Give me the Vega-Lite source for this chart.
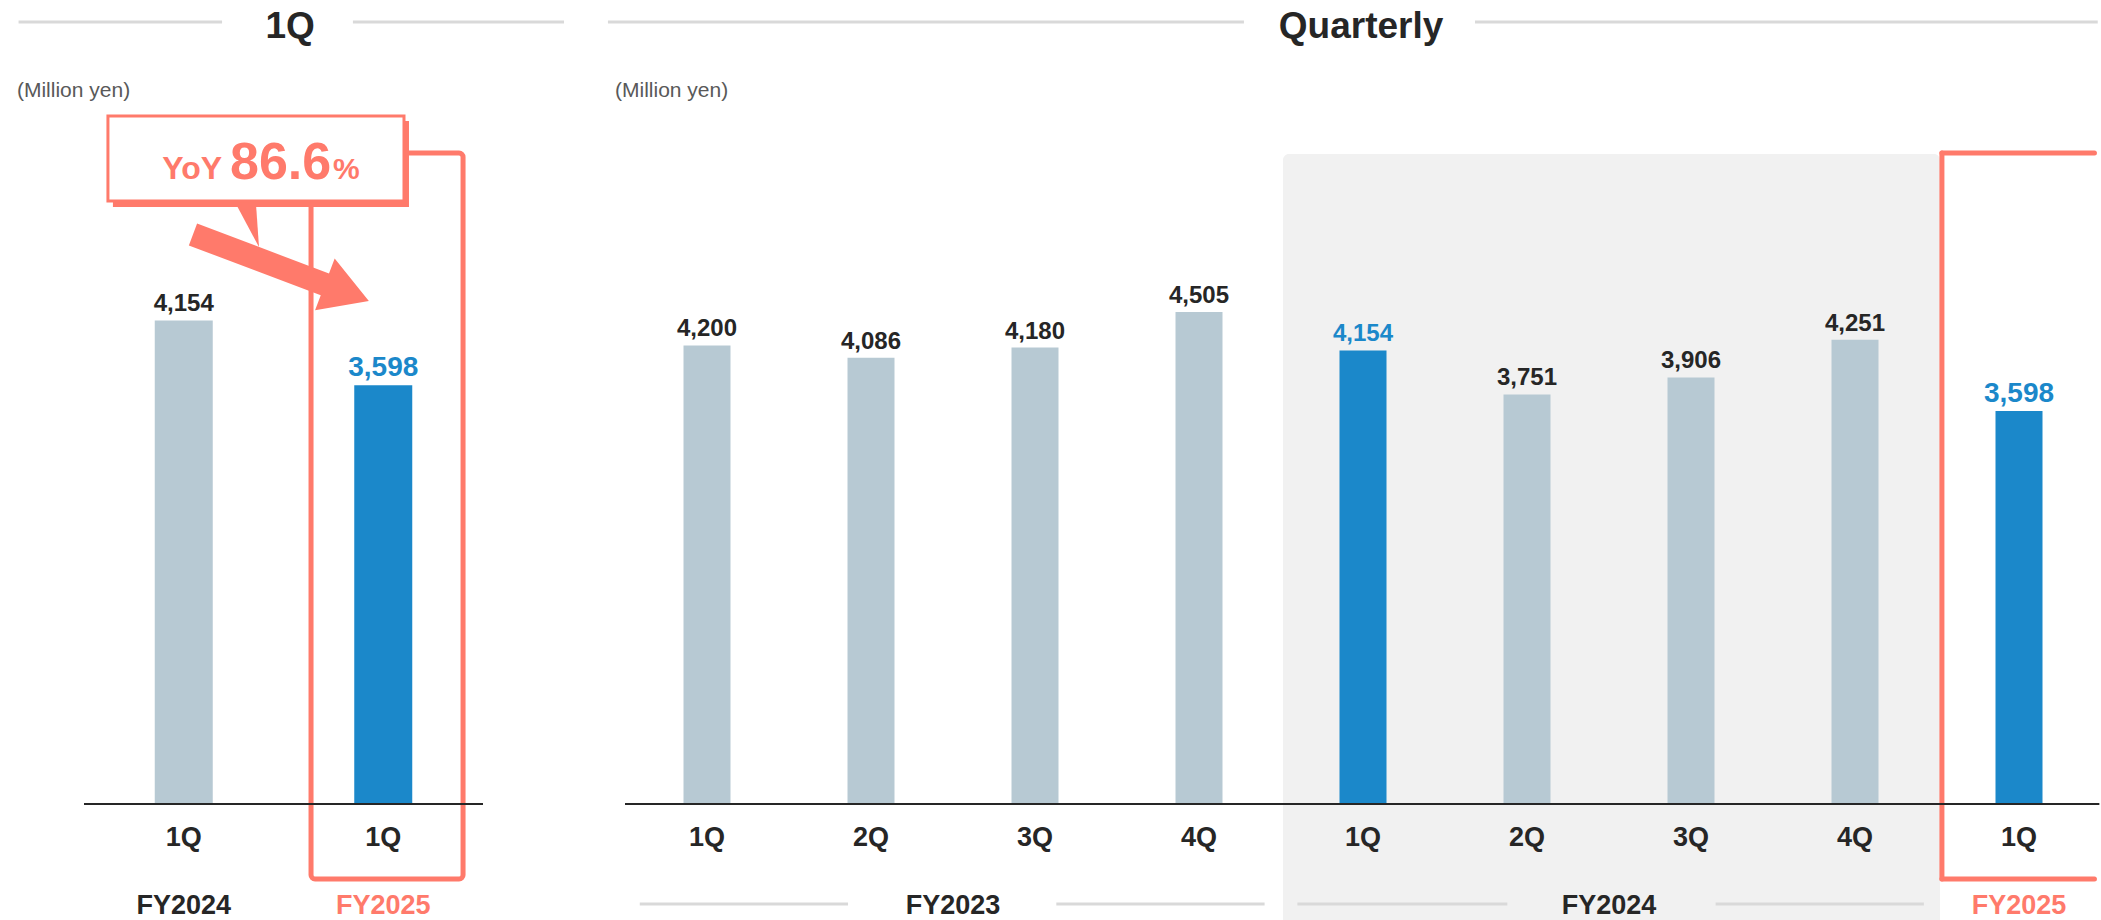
{
  "$schema": "https://vega.github.io/schema/vega-lite/v6.json",
  "background": "white",
  "padding": {"left": 16, "top": 7, "right": 0, "bottom": 0},
  "autosize": {"type": "pad"},
  "spacing": 142,
  "bounds": "flush",
  "config": {
    "view": {"stroke": null},
    "font": "Liberation Sans"
  },
  "datasets": {
    "oneq": [
      {"period": "FY2024 1Q", "fy": "FY2024", "quarter": "1Q", "value": 4154, "status": "past"},
      {"period": "FY2025 1Q", "fy": "FY2025", "quarter": "1Q", "value": 3598, "status": "current"}
    ],
    "quarterly": [
      {"period": "FY2023 1Q", "fy": "FY2023", "quarter": "1Q", "value": 4200, "status": "past"},
      {"period": "FY2023 2Q", "fy": "FY2023", "quarter": "2Q", "value": 4086, "status": "past"},
      {"period": "FY2023 3Q", "fy": "FY2023", "quarter": "3Q", "value": 4180, "status": "past"},
      {"period": "FY2023 4Q", "fy": "FY2023", "quarter": "4Q", "value": 4505, "status": "past"},
      {"period": "FY2024 1Q", "fy": "FY2024", "quarter": "1Q", "value": 4154, "status": "compare"},
      {"period": "FY2024 2Q", "fy": "FY2024", "quarter": "2Q", "value": 3751, "status": "past"},
      {"period": "FY2024 3Q", "fy": "FY2024", "quarter": "3Q", "value": 3906, "status": "past"},
      {"period": "FY2024 4Q", "fy": "FY2024", "quarter": "4Q", "value": 4251, "status": "past"},
      {"period": "FY2025 1Q", "fy": "FY2025", "quarter": "1Q", "value": 3598, "status": "current"}
    ]
  },
  "hconcat": [
    {
      "width": 399,
      "height": 582,
      "layer": [
        {
          "data": {"values": [{}]},
          "mark": {"type": "rect", "fillOpacity": 0, "stroke": "#FF7A6B", "strokeWidth": 5, "cornerRadius": 4},
          "encoding": {
            "x": {"datum": "FY2025 1Q", "bandPosition": 0.138, "axis": null, "scale": {"domain": ["FY2024 1Q", "FY2025 1Q"], "paddingInner": 0, "paddingOuter": 0}},
            "x2": {"datum": "FY2025 1Q", "bandPosition": 0.9},
            "y": {"datum": 5593, "type": "quantitative", "axis": null, "scale": {"domain": [0, 5000], "nice": false}},
            "y2": {"datum": -644}
          }
        },
        {
          "data": {"name": "oneq"},
          "mark": {"type": "bar", "width": 58},
          "encoding": {
            "x": {"field": "period", "type": "nominal", "sort": null, "axis": null, "scale": {"domain": ["FY2024 1Q", "FY2025 1Q"], "paddingInner": 0, "paddingOuter": 0}},
            "y": {"field": "value", "type": "quantitative", "axis": null, "scale": {"domain": [0, 5000], "nice": false}},
            "color": {"condition": {"test": "datum.status === 'past'", "value": "#B7C9D3"}, "value": "#1B88CA"}
          }
        },
        {
          "data": {"values": [{}]},
          "mark": {"type": "rule", "stroke": "#262626", "strokeWidth": 2},
          "encoding": {
            "x": {"datum": "FY2024 1Q", "bandPosition": 0, "axis": null, "scale": {"domain": ["FY2024 1Q", "FY2025 1Q"], "paddingInner": 0, "paddingOuter": 0}},
            "x2": {"datum": "FY2025 1Q", "bandPosition": 1},
            "y": {"datum": 0, "type": "quantitative", "axis": null, "scale": {"domain": [0, 5000], "nice": false}}
          }
        },
        {
          "data": {"name": "oneq"},
          "mark": {"type": "text", "baseline": "alphabetic", "dy": -9, "fontWeight": "bold", "align": "center"},
          "encoding": {
            "x": {"field": "period", "type": "nominal", "sort": null, "axis": null, "scale": {"domain": ["FY2024 1Q", "FY2025 1Q"], "paddingInner": 0, "paddingOuter": 0}},
            "y": {"field": "value", "type": "quantitative", "axis": null, "scale": {"domain": [0, 5000], "nice": false}},
            "text": {"field": "value", "type": "quantitative", "format": ","},
            "color": {"condition": {"test": "datum.status === 'past'", "value": "#262626"}, "value": "#1B88CA"},
            "size": {"condition": {"test": "datum.status === 'current'", "value": 28}, "value": 24}
          }
        },
        {
          "data": {"name": "oneq"},
          "mark": {"type": "text", "baseline": "alphabetic", "fontWeight": "bold", "fontSize": 27, "align": "center", "color": "#262626"},
          "encoding": {
            "x": {"field": "period", "type": "nominal", "sort": null, "axis": null, "scale": {"domain": ["FY2024 1Q", "FY2025 1Q"], "paddingInner": 0, "paddingOuter": 0}},
            "y": {"datum": -361, "type": "quantitative", "axis": null, "scale": {"domain": [0, 5000], "nice": false}},
            "text": {"field": "quarter"}
          }
        },
        {
          "data": {"name": "oneq"},
          "mark": {"type": "text", "baseline": "alphabetic", "fontWeight": "bold", "fontSize": 27, "align": "center"},
          "encoding": {
            "x": {"field": "period", "type": "nominal", "sort": null, "axis": null, "scale": {"domain": ["FY2024 1Q", "FY2025 1Q"], "paddingInner": 0, "paddingOuter": 0}},
            "y": {"datum": -945, "type": "quantitative", "axis": null, "scale": {"domain": [0, 5000], "nice": false}},
            "text": {"field": "fy"},
            "color": {"condition": {"test": "datum.fy === 'FY2025'", "value": "#FF7A6B"}, "value": "#262626"}
          }
        },
        {
          "data": {"values": [{}]},
          "mark": {"type": "rule", "stroke": "#D9D9D9", "strokeWidth": 3},
          "encoding": {
            "x": {"datum": "FY2024 1Q", "bandPosition": -0.328, "axis": null, "scale": {"domain": ["FY2024 1Q", "FY2025 1Q"], "paddingInner": 0, "paddingOuter": 0}},
            "x2": {"datum": "FY2024 1Q", "bandPosition": 0.692},
            "y": {"datum": 6718, "type": "quantitative", "axis": null, "scale": {"domain": [0, 5000], "nice": false}}
          }
        },
        {
          "data": {"values": [{}]},
          "mark": {"type": "rule", "stroke": "#D9D9D9", "strokeWidth": 3},
          "encoding": {
            "x": {"datum": "FY2025 1Q", "bandPosition": 0.348, "axis": null, "scale": {"domain": ["FY2024 1Q", "FY2025 1Q"], "paddingInner": 0, "paddingOuter": 0}},
            "x2": {"datum": "FY2025 1Q", "bandPosition": 1.406},
            "y": {"datum": 6718, "type": "quantitative", "axis": null, "scale": {"domain": [0, 5000], "nice": false}}
          }
        },
        {
          "data": {"values": [{}]},
          "mark": {"type": "text", "text": "1Q", "fontSize": 37, "fontWeight": "bold", "color": "#262626", "align": "center", "baseline": "alphabetic"},
          "encoding": {
            "x": {"datum": "FY2025 1Q", "bandPosition": 0.033, "axis": null, "scale": {"domain": ["FY2024 1Q", "FY2025 1Q"], "paddingInner": 0, "paddingOuter": 0}},
            "y": {"datum": 6581, "type": "quantitative", "axis": null, "scale": {"domain": [0, 5000], "nice": false}}
          }
        },
        {
          "data": {"values": [{}]},
          "mark": {"type": "text", "text": "(Million yen)", "fontSize": 21, "color": "#595959", "align": "left", "baseline": "alphabetic"},
          "encoding": {
            "x": {"datum": "FY2024 1Q", "bandPosition": -0.336, "axis": null, "scale": {"domain": ["FY2024 1Q", "FY2025 1Q"], "paddingInner": 0, "paddingOuter": 0}},
            "y": {"datum": 6074, "type": "quantitative", "axis": null, "scale": {"domain": [0, 5000], "nice": false}}
          }
        },
        {
          "data": {"values": [{}]},
          "mark": {"type": "point", "shape": "M -1 -0.124 L 0.5 -0.124 L 0.5 -0.295 L 1 0 L 0.5 0.295 L 0.5 0.124 L -1 0.124 Z", "size": 35344, "angle": 20.7, "filled": true, "fill": "#FF7A6B", "opacity": 1, "strokeWidth": 0},
          "encoding": {
            "x": {"datum": "FY2024 1Q", "bandPosition": 0.987, "axis": null, "scale": {"domain": ["FY2024 1Q", "FY2025 1Q"], "paddingInner": 0, "paddingOuter": 0}},
            "y": {"datum": 4607, "type": "quantitative", "axis": null, "scale": {"domain": [0, 5000], "nice": false}}
          }
        },
        {
          "data": {"values": [{}]},
          "mark": {"type": "point", "shape": "M -0.523 -0.977 L 0.386 -0.977 L 0.523 0.977 Z", "size": 1936, "filled": true, "fill": "#FF7A6B", "opacity": 1, "strokeWidth": 0},
          "encoding": {
            "x": {"datum": "FY2024 1Q", "bandPosition": 0.8195, "axis": null, "scale": {"domain": ["FY2024 1Q", "FY2025 1Q"], "paddingInner": 0, "paddingOuter": 0}},
            "y": {"datum": 4970, "type": "quantitative", "axis": null, "scale": {"domain": [0, 5000], "nice": false}}
          }
        },
        {
          "data": {"values": [{}]},
          "mark": {"type": "rect", "fill": "#FF7A6B"},
          "encoding": {
            "x": {"datum": "FY2024 1Q", "bandPosition": 0.145, "axis": null, "scale": {"domain": ["FY2024 1Q", "FY2025 1Q"], "paddingInner": 0, "paddingOuter": 0}},
            "x2": {"datum": "FY2025 1Q", "bandPosition": 0.629},
            "y": {"datum": 5868, "type": "quantitative", "axis": null, "scale": {"domain": [0, 5000], "nice": false}},
            "y2": {"datum": 5129}
          }
        },
        {
          "data": {"values": [{}]},
          "mark": {"type": "rect", "fill": "white", "stroke": "#FF7A6B", "strokeWidth": 3},
          "encoding": {
            "x": {"datum": "FY2024 1Q", "bandPosition": 0.12, "axis": null, "scale": {"domain": ["FY2024 1Q", "FY2025 1Q"], "paddingInner": 0, "paddingOuter": 0}},
            "x2": {"datum": "FY2025 1Q", "bandPosition": 0.604},
            "y": {"datum": 5911, "type": "quantitative", "axis": null, "scale": {"domain": [0, 5000], "nice": false}},
            "y2": {"datum": 5180}
          }
        },
        {
          "data": {"values": [{}]},
          "mark": {"type": "text", "text": "YoY", "fontSize": 32, "fontWeight": "bold", "color": "#FF7A6B", "align": "right", "baseline": "alphabetic"},
          "encoding": {
            "x": {"datum": "FY2024 1Q", "bandPosition": 0.692, "axis": null, "scale": {"domain": ["FY2024 1Q", "FY2025 1Q"], "paddingInner": 0, "paddingOuter": 0}},
            "y": {"datum": 5369, "type": "quantitative", "axis": null, "scale": {"domain": [0, 5000], "nice": false}}
          }
        },
        {
          "data": {"values": [{}]},
          "mark": {"type": "text", "text": "86.6", "fontSize": 52, "fontWeight": "bold", "color": "#FF7A6B", "align": "left", "baseline": "alphabetic"},
          "encoding": {
            "x": {"datum": "FY2024 1Q", "bandPosition": 0.732, "axis": null, "scale": {"domain": ["FY2024 1Q", "FY2025 1Q"], "paddingInner": 0, "paddingOuter": 0}},
            "y": {"datum": 5369, "type": "quantitative", "axis": null, "scale": {"domain": [0, 5000], "nice": false}}
          }
        },
        {
          "data": {"values": [{}]},
          "mark": {"type": "text", "text": "%", "fontSize": 30, "fontWeight": "bold", "color": "#FF7A6B", "align": "left", "baseline": "alphabetic"},
          "encoding": {
            "x": {"datum": "FY2025 1Q", "bandPosition": 0.248, "axis": null, "scale": {"domain": ["FY2024 1Q", "FY2025 1Q"], "paddingInner": 0, "paddingOuter": 0}},
            "y": {"datum": 5369, "type": "quantitative", "axis": null, "scale": {"domain": [0, 5000], "nice": false}}
          }
        }
      ]
    },
    {
      "width": 1476,
      "height": 582,
      "layer": [
        {
          "data": {"values": [{}]},
          "mark": {"type": "rect", "fill": "#F1F1F1", "cornerRadiusTopLeft": 6, "cornerRadiusTopRight": 6},
          "encoding": {
            "x": {"datum": "FY2024 1Q", "bandPosition": 0.012, "axis": null, "scale": {"domain": ["FY2023 1Q", "FY2023 2Q", "FY2023 3Q", "FY2023 4Q", "FY2024 1Q", "FY2024 2Q", "FY2024 3Q", "FY2024 4Q", "FY2025 1Q"], "paddingInner": 0, "paddingOuter": 0}},
            "x2": {"datum": "FY2025 1Q", "bandPosition": 0.018},
            "y": {"datum": 5953, "type": "quantitative", "axis": null, "scale": {"domain": [0, 5330], "nice": false}},
            "y2": {"datum": -1071.5}
          }
        },
        {
          "data": {"values": [{}]},
          "mark": {"type": "rule", "stroke": "#FF7A6B", "strokeWidth": 5, "strokeCap": "round"},
          "encoding": {
            "x": {"datum": "FY2025 1Q", "bandPosition": 0.03, "axis": null, "scale": {"domain": ["FY2023 1Q", "FY2023 2Q", "FY2023 3Q", "FY2023 4Q", "FY2024 1Q", "FY2024 2Q", "FY2024 3Q", "FY2024 4Q", "FY2025 1Q"], "paddingInner": 0, "paddingOuter": 0}},
            "x2": {"datum": "FY2025 1Q", "bandPosition": 0.96},
            "y": {"datum": 5962, "type": "quantitative", "axis": null, "scale": {"domain": [0, 5330], "nice": false}}
          }
        },
        {
          "data": {"values": [{}]},
          "mark": {"type": "rule", "stroke": "#FF7A6B", "strokeWidth": 5, "strokeCap": "round"},
          "encoding": {
            "x": {"datum": "FY2025 1Q", "bandPosition": 0.03, "axis": null, "scale": {"domain": ["FY2023 1Q", "FY2023 2Q", "FY2023 3Q", "FY2023 4Q", "FY2024 1Q", "FY2024 2Q", "FY2024 3Q", "FY2024 4Q", "FY2025 1Q"], "paddingInner": 0, "paddingOuter": 0}},
            "y": {"datum": 5962, "type": "quantitative", "axis": null, "scale": {"domain": [0, 5330], "nice": false}},
            "y2": {"datum": -687}
          }
        },
        {
          "data": {"values": [{}]},
          "mark": {"type": "rule", "stroke": "#FF7A6B", "strokeWidth": 5, "strokeCap": "round"},
          "encoding": {
            "x": {"datum": "FY2025 1Q", "bandPosition": 0.03, "axis": null, "scale": {"domain": ["FY2023 1Q", "FY2023 2Q", "FY2023 3Q", "FY2023 4Q", "FY2024 1Q", "FY2024 2Q", "FY2024 3Q", "FY2024 4Q", "FY2025 1Q"], "paddingInner": 0, "paddingOuter": 0}},
            "x2": {"datum": "FY2025 1Q", "bandPosition": 0.96},
            "y": {"datum": -687, "type": "quantitative", "axis": null, "scale": {"domain": [0, 5330], "nice": false}}
          }
        },
        {
          "data": {"name": "quarterly"},
          "mark": {"type": "bar", "width": 47},
          "encoding": {
            "x": {"field": "period", "type": "nominal", "sort": null, "axis": null, "scale": {"domain": ["FY2023 1Q", "FY2023 2Q", "FY2023 3Q", "FY2023 4Q", "FY2024 1Q", "FY2024 2Q", "FY2024 3Q", "FY2024 4Q", "FY2025 1Q"], "paddingInner": 0, "paddingOuter": 0}},
            "y": {"field": "value", "type": "quantitative", "axis": null, "scale": {"domain": [0, 5330], "nice": false}},
            "color": {"condition": {"test": "datum.status === 'past'", "value": "#B7C9D3"}, "value": "#1B88CA"}
          }
        },
        {
          "data": {"values": [{}]},
          "mark": {"type": "rule", "stroke": "#262626", "strokeWidth": 2},
          "encoding": {
            "x": {"datum": "FY2023 1Q", "bandPosition": 0, "axis": null, "scale": {"domain": ["FY2023 1Q", "FY2023 2Q", "FY2023 3Q", "FY2023 4Q", "FY2024 1Q", "FY2024 2Q", "FY2024 3Q", "FY2024 4Q", "FY2025 1Q"], "paddingInner": 0, "paddingOuter": 0}},
            "x2": {"datum": "FY2025 1Q", "bandPosition": 0.99},
            "y": {"datum": 0, "type": "quantitative", "axis": null, "scale": {"domain": [0, 5330], "nice": false}}
          }
        },
        {
          "data": {"name": "quarterly"},
          "mark": {"type": "text", "baseline": "alphabetic", "dy": -9, "fontWeight": "bold", "align": "center"},
          "encoding": {
            "x": {"field": "period", "type": "nominal", "sort": null, "axis": null, "scale": {"domain": ["FY2023 1Q", "FY2023 2Q", "FY2023 3Q", "FY2023 4Q", "FY2024 1Q", "FY2024 2Q", "FY2024 3Q", "FY2024 4Q", "FY2025 1Q"], "paddingInner": 0, "paddingOuter": 0}},
            "y": {"field": "value", "type": "quantitative", "axis": null, "scale": {"domain": [0, 5330], "nice": false}},
            "text": {"field": "value", "type": "quantitative", "format": ","},
            "color": {"condition": {"test": "datum.status === 'past'", "value": "#262626"}, "value": "#1B88CA"},
            "size": {"condition": {"test": "datum.status === 'current'", "value": 28}, "value": 24}
          }
        },
        {
          "data": {"name": "quarterly"},
          "mark": {"type": "text", "baseline": "alphabetic", "fontWeight": "bold", "fontSize": 27, "align": "center", "color": "#262626"},
          "encoding": {
            "x": {"field": "period", "type": "nominal", "sort": null, "axis": null, "scale": {"domain": ["FY2023 1Q", "FY2023 2Q", "FY2023 3Q", "FY2023 4Q", "FY2024 1Q", "FY2024 2Q", "FY2024 3Q", "FY2024 4Q", "FY2025 1Q"], "paddingInner": 0, "paddingOuter": 0}},
            "y": {"datum": -384.6, "type": "quantitative", "axis": null, "scale": {"domain": [0, 5330], "nice": false}},
            "text": {"field": "quarter"}
          }
        },
        {
          "data": {"values": [{}]},
          "mark": {"type": "text", "text": "FY2023", "fontSize": 27, "fontWeight": "bold", "color": "#262626", "align": "center", "baseline": "alphabetic"},
          "encoding": {
            "x": {"datum": "FY2023 2Q", "bandPosition": 1, "axis": null, "scale": {"domain": ["FY2023 1Q", "FY2023 2Q", "FY2023 3Q", "FY2023 4Q", "FY2024 1Q", "FY2024 2Q", "FY2024 3Q", "FY2024 4Q", "FY2025 1Q"], "paddingInner": 0, "paddingOuter": 0}},
            "y": {"datum": -1007.4, "type": "quantitative", "axis": null, "scale": {"domain": [0, 5330], "nice": false}}
          }
        },
        {
          "data": {"values": [{}]},
          "mark": {"type": "text", "text": "FY2024", "fontSize": 27, "fontWeight": "bold", "color": "#262626", "align": "center", "baseline": "alphabetic"},
          "encoding": {
            "x": {"datum": "FY2024 2Q", "bandPosition": 1, "axis": null, "scale": {"domain": ["FY2023 1Q", "FY2023 2Q", "FY2023 3Q", "FY2023 4Q", "FY2024 1Q", "FY2024 2Q", "FY2024 3Q", "FY2024 4Q", "FY2025 1Q"], "paddingInner": 0, "paddingOuter": 0}},
            "y": {"datum": -1007.4, "type": "quantitative", "axis": null, "scale": {"domain": [0, 5330], "nice": false}}
          }
        },
        {
          "data": {"values": [{}]},
          "mark": {"type": "text", "text": "FY2025", "fontSize": 27, "fontWeight": "bold", "color": "#FF7A6B", "align": "center", "baseline": "alphabetic"},
          "encoding": {
            "x": {"datum": "FY2025 1Q", "bandPosition": 0.5, "axis": null, "scale": {"domain": ["FY2023 1Q", "FY2023 2Q", "FY2023 3Q", "FY2023 4Q", "FY2024 1Q", "FY2024 2Q", "FY2024 3Q", "FY2024 4Q", "FY2025 1Q"], "paddingInner": 0, "paddingOuter": 0}},
            "y": {"datum": -1007.4, "type": "quantitative", "axis": null, "scale": {"domain": [0, 5330], "nice": false}}
          }
        },
        {
          "data": {"values": [{}]},
          "mark": {"type": "rule", "stroke": "#D9D9D9", "strokeWidth": 3},
          "encoding": {
            "x": {"datum": "FY2023 1Q", "bandPosition": 0.09, "axis": null, "scale": {"domain": ["FY2023 1Q", "FY2023 2Q", "FY2023 3Q", "FY2023 4Q", "FY2024 1Q", "FY2024 2Q", "FY2024 3Q", "FY2024 4Q", "FY2025 1Q"], "paddingInner": 0, "paddingOuter": 0}},
            "x2": {"datum": "FY2023 2Q", "bandPosition": 0.36},
            "y": {"datum": -915.8, "type": "quantitative", "axis": null, "scale": {"domain": [0, 5330], "nice": false}}
          }
        },
        {
          "data": {"values": [{}]},
          "mark": {"type": "rule", "stroke": "#D9D9D9", "strokeWidth": 3},
          "encoding": {
            "x": {"datum": "FY2023 3Q", "bandPosition": 0.63, "axis": null, "scale": {"domain": ["FY2023 1Q", "FY2023 2Q", "FY2023 3Q", "FY2023 4Q", "FY2024 1Q", "FY2024 2Q", "FY2024 3Q", "FY2024 4Q", "FY2025 1Q"], "paddingInner": 0, "paddingOuter": 0}},
            "x2": {"datum": "FY2023 4Q", "bandPosition": 0.9},
            "y": {"datum": -915.8, "type": "quantitative", "axis": null, "scale": {"domain": [0, 5330], "nice": false}}
          }
        },
        {
          "data": {"values": [{}]},
          "mark": {"type": "rule", "stroke": "#D9D9D9", "strokeWidth": 3},
          "encoding": {
            "x": {"datum": "FY2024 1Q", "bandPosition": 0.1, "axis": null, "scale": {"domain": ["FY2023 1Q", "FY2023 2Q", "FY2023 3Q", "FY2023 4Q", "FY2024 1Q", "FY2024 2Q", "FY2024 3Q", "FY2024 4Q", "FY2025 1Q"], "paddingInner": 0, "paddingOuter": 0}},
            "x2": {"datum": "FY2024 2Q", "bandPosition": 0.38},
            "y": {"datum": -915.8, "type": "quantitative", "axis": null, "scale": {"domain": [0, 5330], "nice": false}}
          }
        },
        {
          "data": {"values": [{}]},
          "mark": {"type": "rule", "stroke": "#D9D9D9", "strokeWidth": 3},
          "encoding": {
            "x": {"datum": "FY2024 3Q", "bandPosition": 0.65, "axis": null, "scale": {"domain": ["FY2023 1Q", "FY2023 2Q", "FY2023 3Q", "FY2023 4Q", "FY2024 1Q", "FY2024 2Q", "FY2024 3Q", "FY2024 4Q", "FY2025 1Q"], "paddingInner": 0, "paddingOuter": 0}},
            "x2": {"datum": "FY2024 4Q", "bandPosition": 0.92},
            "y": {"datum": -915.8, "type": "quantitative", "axis": null, "scale": {"domain": [0, 5330], "nice": false}}
          }
        },
        {
          "data": {"values": [{}]},
          "mark": {"type": "rule", "stroke": "#D9D9D9", "strokeWidth": 3},
          "encoding": {
            "x": {"datum": "FY2023 1Q", "bandPosition": -0.104, "axis": null, "scale": {"domain": ["FY2023 1Q", "FY2023 2Q", "FY2023 3Q", "FY2023 4Q", "FY2024 1Q", "FY2024 2Q", "FY2024 3Q", "FY2024 4Q", "FY2025 1Q"], "paddingInner": 0, "paddingOuter": 0}},
            "x2": {"datum": "FY2023 4Q", "bandPosition": 0.774},
            "y": {"datum": 7162, "type": "quantitative", "axis": null, "scale": {"domain": [0, 5330], "nice": false}}
          }
        },
        {
          "data": {"values": [{}]},
          "mark": {"type": "rule", "stroke": "#D9D9D9", "strokeWidth": 3},
          "encoding": {
            "x": {"datum": "FY2024 2Q", "bandPosition": 0.183, "axis": null, "scale": {"domain": ["FY2023 1Q", "FY2023 2Q", "FY2023 3Q", "FY2023 4Q", "FY2024 1Q", "FY2024 2Q", "FY2024 3Q", "FY2024 4Q", "FY2025 1Q"], "paddingInner": 0, "paddingOuter": 0}},
            "x2": {"datum": "FY2025 1Q", "bandPosition": 0.98},
            "y": {"datum": 7162, "type": "quantitative", "axis": null, "scale": {"domain": [0, 5330], "nice": false}}
          }
        },
        {
          "data": {"values": [{}]},
          "mark": {"type": "text", "text": "Quarterly", "fontSize": 37, "fontWeight": "bold", "color": "#262626", "align": "center", "baseline": "alphabetic"},
          "encoding": {
            "x": {"datum": "FY2024 1Q", "bandPosition": 0.488, "axis": null, "scale": {"domain": ["FY2023 1Q", "FY2023 2Q", "FY2023 3Q", "FY2023 4Q", "FY2024 1Q", "FY2024 2Q", "FY2024 3Q", "FY2024 4Q", "FY2025 1Q"], "paddingInner": 0, "paddingOuter": 0}},
            "y": {"datum": 7015, "type": "quantitative", "axis": null, "scale": {"domain": [0, 5330], "nice": false}}
          }
        },
        {
          "data": {"values": [{}]},
          "mark": {"type": "text", "text": "(Million yen)", "fontSize": 21, "color": "#595959", "align": "left", "baseline": "alphabetic"},
          "encoding": {
            "x": {"datum": "FY2023 1Q", "bandPosition": -0.061, "axis": null, "scale": {"domain": ["FY2023 1Q", "FY2023 2Q", "FY2023 3Q", "FY2023 4Q", "FY2024 1Q", "FY2024 2Q", "FY2024 3Q", "FY2024 4Q", "FY2025 1Q"], "paddingInner": 0, "paddingOuter": 0}},
            "y": {"datum": 6475, "type": "quantitative", "axis": null, "scale": {"domain": [0, 5330], "nice": false}}
          }
        }
      ]
    }
  ]
}
